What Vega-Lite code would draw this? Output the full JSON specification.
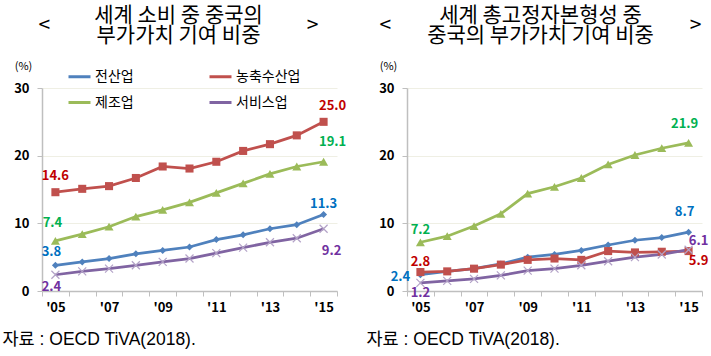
{
  "$schema": "https://vega.github.io/schema/vega-lite/v6.json",
  "background": "white",
  "padding": {"left": 2, "top": 5, "right": 5, "bottom": 5},
  "spacing": 70,
  "bounds": "flush",
  "config": {
    "font": "Noto Sans CJK KR",
    "view": {"stroke": null},
    "axis": {"labelFont": "Noto Sans CJK KR", "titleFont": "Liberation Sans, Noto Sans CJK KR"},
    "legend": {"labelFont": "Noto Sans CJK KR"}
  },
  "datasets": {
    "cons": [
      {"year": 2005, "series": "전산업", "value": 3.8}, {"year": 2006, "series": "전산업", "value": 4.3}, {"year": 2007, "series": "전산업", "value": 4.8}, {"year": 2008, "series": "전산업", "value": 5.5}, {"year": 2009, "series": "전산업", "value": 6.0}, {"year": 2010, "series": "전산업", "value": 6.5}, {"year": 2011, "series": "전산업", "value": 7.6}, {"year": 2012, "series": "전산업", "value": 8.3}, {"year": 2013, "series": "전산업", "value": 9.2}, {"year": 2014, "series": "전산업", "value": 9.8}, {"year": 2015, "series": "전산업", "value": 11.3},
      {"year": 2005, "series": "농축수산업", "value": 14.6}, {"year": 2006, "series": "농축수산업", "value": 15.1}, {"year": 2007, "series": "농축수산업", "value": 15.5}, {"year": 2008, "series": "농축수산업", "value": 16.7}, {"year": 2009, "series": "농축수산업", "value": 18.4}, {"year": 2010, "series": "농축수산업", "value": 18.1}, {"year": 2011, "series": "농축수산업", "value": 19.1}, {"year": 2012, "series": "농축수산업", "value": 20.7}, {"year": 2013, "series": "농축수산업", "value": 21.7}, {"year": 2014, "series": "농축수산업", "value": 23.0}, {"year": 2015, "series": "농축수산업", "value": 25.0},
      {"year": 2005, "series": "제조업", "value": 7.4}, {"year": 2006, "series": "제조업", "value": 8.4}, {"year": 2007, "series": "제조업", "value": 9.5}, {"year": 2008, "series": "제조업", "value": 11.0}, {"year": 2009, "series": "제조업", "value": 12.0}, {"year": 2010, "series": "제조업", "value": 13.1}, {"year": 2011, "series": "제조업", "value": 14.5}, {"year": 2012, "series": "제조업", "value": 15.9}, {"year": 2013, "series": "제조업", "value": 17.3}, {"year": 2014, "series": "제조업", "value": 18.4}, {"year": 2015, "series": "제조업", "value": 19.1},
      {"year": 2005, "series": "서비스업", "value": 2.4}, {"year": 2006, "series": "서비스업", "value": 2.9}, {"year": 2007, "series": "서비스업", "value": 3.3}, {"year": 2008, "series": "서비스업", "value": 3.8}, {"year": 2009, "series": "서비스업", "value": 4.3}, {"year": 2010, "series": "서비스업", "value": 4.8}, {"year": 2011, "series": "서비스업", "value": 5.6}, {"year": 2012, "series": "서비스업", "value": 6.4}, {"year": 2013, "series": "서비스업", "value": 7.2}, {"year": 2014, "series": "서비스업", "value": 7.8}, {"year": 2015, "series": "서비스업", "value": 9.2}
    ],
    "gfcf": [
      {"year": 2005, "series": "전산업", "value": 2.4}, {"year": 2006, "series": "전산업", "value": 2.9}, {"year": 2007, "series": "전산업", "value": 3.3}, {"year": 2008, "series": "전산업", "value": 4.0}, {"year": 2009, "series": "전산업", "value": 5.0}, {"year": 2010, "series": "전산업", "value": 5.4}, {"year": 2011, "series": "전산업", "value": 6.0}, {"year": 2012, "series": "전산업", "value": 6.8}, {"year": 2013, "series": "전산업", "value": 7.5}, {"year": 2014, "series": "전산업", "value": 7.9}, {"year": 2015, "series": "전산업", "value": 8.7},
      {"year": 2005, "series": "농축수산업", "value": 2.8}, {"year": 2006, "series": "농축수산업", "value": 2.9}, {"year": 2007, "series": "농축수산업", "value": 3.3}, {"year": 2008, "series": "농축수산업", "value": 3.9}, {"year": 2009, "series": "농축수산업", "value": 4.6}, {"year": 2010, "series": "농축수산업", "value": 4.8}, {"year": 2011, "series": "농축수산업", "value": 4.6}, {"year": 2012, "series": "농축수산업", "value": 5.9}, {"year": 2013, "series": "농축수산업", "value": 5.7}, {"year": 2014, "series": "농축수산업", "value": 5.8}, {"year": 2015, "series": "농축수산업", "value": 5.9},
      {"year": 2005, "series": "제조업", "value": 7.2}, {"year": 2006, "series": "제조업", "value": 8.1}, {"year": 2007, "series": "제조업", "value": 9.6}, {"year": 2008, "series": "제조업", "value": 11.4}, {"year": 2009, "series": "제조업", "value": 14.4}, {"year": 2010, "series": "제조업", "value": 15.4}, {"year": 2011, "series": "제조업", "value": 16.7}, {"year": 2012, "series": "제조업", "value": 18.7}, {"year": 2013, "series": "제조업", "value": 20.1}, {"year": 2014, "series": "제조업", "value": 21.1}, {"year": 2015, "series": "제조업", "value": 21.9},
      {"year": 2005, "series": "서비스업", "value": 1.2}, {"year": 2006, "series": "서비스업", "value": 1.5}, {"year": 2007, "series": "서비스업", "value": 1.8}, {"year": 2008, "series": "서비스업", "value": 2.3}, {"year": 2009, "series": "서비스업", "value": 3.0}, {"year": 2010, "series": "서비스업", "value": 3.3}, {"year": 2011, "series": "서비스업", "value": 3.8}, {"year": 2012, "series": "서비스업", "value": 4.4}, {"year": 2013, "series": "서비스업", "value": 5.0}, {"year": 2014, "series": "서비스업", "value": 5.4}, {"year": 2015, "series": "서비스업", "value": 6.1}
    ]
  },
  "hconcat": [
    {
      "width": 295, "height": 203,
      "data": {"name": "cons"},
      "title": {"text": ["세계 소비 중 중국의", "<　　　　　　　　　　　　 >", "부가가치 기여 비중"], "font": "Noto Sans CJK KR", "fontSize": 21, "fontWeight": "normal", "lineHeight": 10, "anchor": "middle", "frame": "group", "dx": -11, "offset": 14, "color": "black"},
      "encoding": {
        "x": {"field": "year", "type": "ordinal", "scale": {"type": "band", "paddingInner": 0, "paddingOuter": 0},
          "axis": {"labelExpr": "datum.value % 2 == 1 ? \"'\" + slice(toString(datum.value), 2) : ''", "labelAngle": 0, "labelFlush": false, "labelAlign": "center", "tickBand": "extent", "domainColor": "#bfbfbf", "domainWidth": 1.5, "tickColor": "#bfbfbf", "tickSize": 5, "labelFontWeight": "bold", "labelFontSize": 13, "labelColor": "black", "labelPadding": 5,
            "title": "자료 : OECD TiVA(2018).", "titleX": -40, "titleY": 48, "titleAlign": "left", "titleBaseline": "middle", "titleFontWeight": "normal", "titleFontSize": 17.5, "titleColor": "black"}},
        "y": {"field": "value", "type": "quantitative", "scale": {"domain": [0, 30]},
          "axis": {"values": [0, 10, 20, 30], "grid": true, "gridColor": "#efefe4", "domainColor": "#bfbfbf", "domainWidth": 1.5, "tickColor": "#bfbfbf", "tickSize": 5, "labelFontWeight": "bold", "labelFontSize": 13, "labelColor": "black", "labelPadding": 8,
            "title": "(%)", "titleFont": "Noto Sans CJK KR", "titleAngle": 0, "titleX": -19, "titleY": -22, "titleAlign": "center", "titleBaseline": "middle", "titleFontWeight": "normal", "titleFontSize": 11, "titleColor": "black"}}
      },
      "layer": [
        {"mark": {"type": "line", "strokeWidth": 2.75},
          "encoding": {"color": {"field": "series", "type": "nominal", "scale": {"domain": ["전산업", "제조업", "농축수산업", "서비스업"], "range": ["#4F81BD", "#9BBB59", "#C0504D", "#8064A2"]},
            "legend": {"title": null, "orient": "none", "legendX": 25, "legendY": -24, "columns": 2, "columnPadding": 69, "rowPadding": 6, "symbolType": "stroke", "symbolSize": 484, "symbolStrokeWidth": 3, "labelFontSize": 14, "labelColor": "black", "labelOffset": 3}}}},
        {"mark": {"type": "point", "filled": true, "opacity": 1},
          "transform": [{"filter": "datum.series != '서비스업'"}],
          "encoding": {"color": {"field": "series", "type": "nominal"},
            "shape": {"field": "series", "type": "nominal", "scale": {"domain": ["전산업", "농축수산업", "제조업"], "range": ["diamond", "square", "triangle-up"]}, "legend": null},
            "size": {"field": "series", "type": "nominal", "scale": {"domain": ["전산업", "농축수산업", "제조업"], "range": [49, 81, 70]}, "legend": null}}},
        {"mark": {"type": "point", "shape": "M-1,-1L1,1M-1,1L1,-1", "filled": false, "color": "#b3a2c7", "size": 64, "strokeWidth": 1.2, "opacity": 1},
          "transform": [{"filter": "datum.series == '서비스업'"}]},
        {"mark": {"type": "text", "fontWeight": "bold", "fontSize": 13, "color": "#C00000", "dx": 0, "dy": -16}, "transform": [{"filter": "datum.series == '농축수산업' && datum.year == 2005"}], "encoding": {"text": {"field": "value", "format": ".1f"}}},
        {"mark": {"type": "text", "fontWeight": "bold", "fontSize": 13, "color": "#C00000", "dx": 9, "dy": -16}, "transform": [{"filter": "datum.series == '농축수산업' && datum.year == 2015"}], "encoding": {"text": {"field": "value", "format": ".1f"}}},
        {"mark": {"type": "text", "fontWeight": "bold", "fontSize": 13, "color": "#00B050", "dx": -3, "dy": -18}, "transform": [{"filter": "datum.series == '제조업' && datum.year == 2005"}], "encoding": {"text": {"field": "value", "format": ".1f"}}},
        {"mark": {"type": "text", "fontWeight": "bold", "fontSize": 13, "color": "#00B050", "dx": 9, "dy": -20}, "transform": [{"filter": "datum.series == '제조업' && datum.year == 2015"}], "encoding": {"text": {"field": "value", "format": ".1f"}}},
        {"mark": {"type": "text", "fontWeight": "bold", "fontSize": 13, "color": "#0070C0", "dx": -4, "dy": -13}, "transform": [{"filter": "datum.series == '전산업' && datum.year == 2005"}], "encoding": {"text": {"field": "value", "format": ".1f"}}},
        {"mark": {"type": "text", "fontWeight": "bold", "fontSize": 13, "color": "#0070C0", "dx": 0, "dy": -11}, "transform": [{"filter": "datum.series == '전산업' && datum.year == 2015"}], "encoding": {"text": {"field": "value", "format": ".1f"}}},
        {"mark": {"type": "text", "fontWeight": "bold", "fontSize": 13, "color": "#7030A0", "dx": -4, "dy": 12}, "transform": [{"filter": "datum.series == '서비스업' && datum.year == 2005"}], "encoding": {"text": {"field": "value", "format": ".1f"}}},
        {"mark": {"type": "text", "fontWeight": "bold", "fontSize": 13, "color": "#7030A0", "dx": 8, "dy": 22}, "transform": [{"filter": "datum.series == '서비스업' && datum.year == 2015"}], "encoding": {"text": {"field": "value", "format": ".1f"}}}
      ]
    },
    {
      "width": 295, "height": 203,
      "data": {"name": "gfcf"},
      "title": {"text": ["세계 총고정자본형성 중", "<　　　　　　　　　　　　　　 >", "중국의 부가가치 기여 비중"], "font": "Noto Sans CJK KR", "fontSize": 21, "fontWeight": "normal", "lineHeight": 10, "anchor": "middle", "frame": "group", "dx": -14, "offset": 14, "color": "black"},
      "encoding": {
        "x": {"field": "year", "type": "ordinal", "scale": {"type": "band", "paddingInner": 0, "paddingOuter": 0},
          "axis": {"labelExpr": "datum.value % 2 == 1 ? \"'\" + slice(toString(datum.value), 2) : ''", "labelAngle": 0, "labelFlush": false, "labelAlign": "center", "tickBand": "extent", "domainColor": "#bfbfbf", "domainWidth": 1.5, "tickColor": "#bfbfbf", "tickSize": 5, "labelFontWeight": "bold", "labelFontSize": 13, "labelColor": "black", "labelPadding": 5,
            "title": "자료 : OECD TiVA(2018).", "titleX": -41, "titleY": 48, "titleAlign": "left", "titleBaseline": "middle", "titleFontWeight": "normal", "titleFontSize": 17.5, "titleColor": "black"}},
        "y": {"field": "value", "type": "quantitative", "scale": {"domain": [0, 30]},
          "axis": {"values": [0, 10, 20, 30], "grid": true, "gridColor": "#efefe4", "domainColor": "#bfbfbf", "domainWidth": 1.5, "tickColor": "#bfbfbf", "tickSize": 5, "labelFontWeight": "bold", "labelFontSize": 13, "labelColor": "black", "labelPadding": 8,
            "title": "(%)", "titleFont": "Noto Sans CJK KR", "titleAngle": 0, "titleX": -19, "titleY": -22, "titleAlign": "center", "titleBaseline": "middle", "titleFontWeight": "normal", "titleFontSize": 11, "titleColor": "black"}}
      },
      "layer": [
        {"mark": {"type": "line", "strokeWidth": 2.75},
          "encoding": {"color": {"field": "series", "type": "nominal", "scale": {"domain": ["전산업", "제조업", "농축수산업", "서비스업"], "range": ["#4F81BD", "#9BBB59", "#C0504D", "#8064A2"]},
            "legend": {"title": null, "orient": "none", "legendX": 23, "legendY": -24, "columns": 2, "columnPadding": 71, "rowPadding": 6, "symbolType": "stroke", "symbolSize": 484, "symbolStrokeWidth": 3, "labelFontSize": 14, "labelColor": "black", "labelOffset": 3}}}},
        {"mark": {"type": "point", "filled": true, "opacity": 1},
          "transform": [{"filter": "datum.series != '서비스업'"}],
          "encoding": {"color": {"field": "series", "type": "nominal"},
            "shape": {"field": "series", "type": "nominal", "scale": {"domain": ["전산업", "농축수산업", "제조업"], "range": ["diamond", "square", "triangle-up"]}, "legend": null},
            "size": {"field": "series", "type": "nominal", "scale": {"domain": ["전산업", "농축수산업", "제조업"], "range": [49, 81, 70]}, "legend": null}}},
        {"mark": {"type": "point", "shape": "M-1,-1L1,1M-1,1L1,-1", "filled": false, "color": "#b3a2c7", "size": 64, "strokeWidth": 1.2, "opacity": 1},
          "transform": [{"filter": "datum.series == '서비스업'"}]},
        {"mark": {"type": "text", "fontWeight": "bold", "fontSize": 13, "color": "#00B050", "dx": -4, "dy": -19}, "transform": [{"filter": "datum.series == '제조업' && datum.year == 2015"}], "encoding": {"text": {"field": "value", "format": ".1f"}}},
        {"mark": {"type": "text", "fontWeight": "bold", "fontSize": 13, "color": "#00B050", "dx": 0, "dy": -12}, "transform": [{"filter": "datum.series == '제조업' && datum.year == 2005"}], "encoding": {"text": {"field": "value", "format": ".1f"}}},
        {"mark": {"type": "text", "fontWeight": "bold", "fontSize": 13, "color": "#0070C0", "dx": -4, "dy": -20}, "transform": [{"filter": "datum.series == '전산업' && datum.year == 2015"}], "encoding": {"text": {"field": "value", "format": ".1f"}}},
        {"mark": {"type": "text", "fontWeight": "bold", "fontSize": 13, "color": "#C00000", "dx": 0, "dy": -10}, "transform": [{"filter": "datum.series == '농축수산업' && datum.year == 2005"}], "encoding": {"text": {"field": "value", "format": ".1f"}}},
        {"mark": {"type": "text", "fontWeight": "bold", "fontSize": 13, "color": "#0070C0", "dx": -20, "dy": 2}, "transform": [{"filter": "datum.series == '전산업' && datum.year == 2005"}], "encoding": {"text": {"field": "value", "format": ".1f"}}},
        {"mark": {"type": "text", "fontWeight": "bold", "fontSize": 13, "color": "#7030A0", "dx": 0, "dy": 10}, "transform": [{"filter": "datum.series == '서비스업' && datum.year == 2005"}], "encoding": {"text": {"field": "value", "format": ".1f"}}},
        {"mark": {"type": "text", "fontWeight": "bold", "fontSize": 13, "color": "#7030A0", "dx": 10, "dy": -9}, "transform": [{"filter": "datum.series == '서비스업' && datum.year == 2015"}], "encoding": {"text": {"field": "value", "format": ".1f"}}},
        {"mark": {"type": "text", "fontWeight": "bold", "fontSize": 13, "color": "#C00000", "dx": 10, "dy": 10}, "transform": [{"filter": "datum.series == '농축수산업' && datum.year == 2015"}], "encoding": {"text": {"field": "value", "format": ".1f"}}}
      ]
    }
  ]
}
